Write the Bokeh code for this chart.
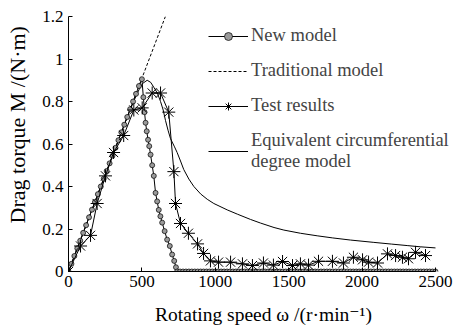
import numpy as np
from bokeh.plotting import figure
from bokeh.models import (Range1d, FixedTicker, CustomJSTickFormatter, Legend,
                          LegendItem)
from bokeh.embed import file_html
from bokeh.resources import INLINE

# ---------------- data ----------------
x_ticks = [0, 500, 1000, 1500, 2000, 2500]
y_ticks = [0, 0.2, 0.4, 0.6, 0.8, 1.0, 1.2]

# Traditional model (dashed straight line)
trad_w = [0, 660]
trad_m = [0.0, 1.2]

# New model (circles)
new_rise_w = [0, 20, 40, 60, 80, 100, 120, 140, 160, 180, 200, 220, 240, 260,
              280, 300, 320, 340, 360, 380, 400, 420, 440, 460, 480, 500]
new_rise_m = [0.000, 0.036, 0.073, 0.109, 0.145, 0.182, 0.218, 0.255, 0.291,
              0.327, 0.364, 0.400, 0.436, 0.473, 0.509, 0.545, 0.582, 0.618,
              0.655, 0.691, 0.727, 0.764, 0.800, 0.836, 0.873, 0.905]
new_fall_w = [510, 518, 525, 533, 542, 550, 559, 570, 581, 593, 604, 615, 626,
              638, 655, 672, 690, 706, 720, 732, 740]
new_fall_m = [0.82, 0.75, 0.70, 0.66, 0.62, 0.59, 0.55, 0.50, 0.45, 0.37, 0.33,
              0.29, 0.26, 0.23, 0.19, 0.15, 0.12, 0.08, 0.05, 0.02, 0.0]
new_tail_w = list(range(760, 2501, 20))
new_tail_m = [0.0] * len(new_tail_w)
new_w = new_rise_w + new_fall_w + new_tail_w
new_m = new_rise_m + new_fall_m + new_tail_m

# Test results (asterisks)
test_w = [0, 82, 150, 195, 252, 307, 376, 445, 502, 570, 627, 683, 718, 729,
          763, 817, 879, 920, 967, 1022, 1104, 1185, 1253, 1328, 1396, 1458,
          1526, 1580, 1635, 1703, 1798, 1873, 1941, 2003, 2044, 2105, 2173,
          2228, 2275, 2316, 2364, 2432]
test_m = [0.0, 0.12, 0.17, 0.32, 0.45, 0.56, 0.64, 0.76, 0.77, 0.84, 0.84, 0.75,
          0.47, 0.32, 0.226, 0.18, 0.13, 0.085, 0.05, 0.044, 0.044, 0.036,
          0.028, 0.04, 0.03, 0.047, 0.028, 0.036, 0.03, 0.048, 0.048, 0.04,
          0.067, 0.055, 0.044, 0.04, 0.083, 0.075, 0.067, 0.06, 0.09, 0.075]

# Equivalent circumferential degree model (thin solid line)
eq_w = [0, 100, 200, 300, 400, 450, 480, 505, 536, 560, 581, 605, 627, 645,
        661, 678, 695, 720, 740, 763, 785, 820, 854, 900, 945, 990, 1081,
        1150, 1240, 1308, 1400, 1467, 1580, 1694, 1800, 1921, 2080, 2200,
        2307, 2400, 2500]
eq_m = [0.0, 0.182, 0.364, 0.545, 0.727, 0.81, 0.855, 0.885, 0.9, 0.89, 0.867,
        0.84, 0.8, 0.76, 0.71, 0.665, 0.625, 0.59, 0.56, 0.52, 0.48, 0.435,
        0.4, 0.365, 0.34, 0.32, 0.29, 0.27, 0.245, 0.228, 0.207, 0.195, 0.18,
        0.168, 0.158, 0.148, 0.137, 0.129, 0.122, 0.116, 0.111]

legend_labels = ["New model", "Traditional model", "Test results",
                 "Equivalent circumferential\ndegree model"]
x_title = "Rotating speed \u03c9 /(r\u00b7min\u207b\u00b9)"
y_title = "\u00a0" * 7 + "Drag torque M /(N\u00b7m)"

FONT = "Liberation Serif, Times New Roman, DejaVu Serif, serif"

# ---------------- figure ----------------
# The frame runs to the right edge (so the legend is not clipped); the axis
# itself is bounded to 0..2500 as in the reference.
p = figure(width=458, height=331, output_backend="svg", toolbar_location=None,
           x_range=Range1d(0, 2656.7), y_range=Range1d(0, 1.2),
           min_border_left=68, min_border_right=0, min_border_top=16,
           min_border_bottom=60)
p.outline_line_color = None
p.xgrid.visible = False
p.ygrid.visible = False
p.background_fill_color = "white"
p.border_fill_color = "white"

for ax, ticks in ((p.xaxis[0], x_ticks), (p.yaxis[0], y_ticks)):
    ax.ticker = FixedTicker(ticks=ticks)
    ax.formatter = CustomJSTickFormatter(code="return tick.toString();")
    ax.major_tick_in = 4
    ax.major_tick_out = 0
    ax.minor_tick_line_color = None
    ax.axis_line_color = "black"
    ax.axis_line_width = 1
    ax.major_tick_line_color = "black"
    ax.major_label_text_font = FONT
    ax.major_label_text_font_size = "17px"
    ax.major_label_text_font_style = "normal"
    ax.major_label_text_color = "black"
    ax.axis_label_text_font = FONT
    ax.axis_label_text_font_style = "normal"
    ax.axis_label_text_color = "black"
p.xaxis.bounds = (x_ticks[0], x_ticks[-1])
p.xaxis.major_label_standoff = 4
p.yaxis.major_label_standoff = 5
p.xaxis.axis_label = x_title
p.xaxis.axis_label_text_font_size = "19.5px"
p.xaxis.axis_label_standoff = 14
p.yaxis.axis_label = y_title
p.yaxis.axis_label_text_font_size = "22px"
p.yaxis.axis_label_standoff = 9

trad = p.line(trad_w, trad_m, line_color="black", line_width=1,
              line_dash="3 2")
eq = p.line(eq_w, eq_m, line_color="black", line_width=1)
new_l = p.line(new_w, new_m, line_color="black", line_width=1)
new_s = p.scatter(new_w, new_m, marker="circle", size=5, fill_color="#9a9a9a",
                  line_color="black", line_width=0.7)
test_l = p.line(test_w, test_m, line_color="black", line_width=1)
test_s = p.scatter(test_w, test_m, marker="asterisk", size=13,
                   line_color="black", line_width=1)

legend = Legend(items=[
    LegendItem(label=legend_labels[0], renderers=[new_l, new_s]),
    LegendItem(label=legend_labels[1], renderers=[trad]),
    LegendItem(label=legend_labels[2], renderers=[test_l, test_s]),
    LegendItem(label=legend_labels[3], renderers=[eq]),
], location=(140, 99), glyph_width=40, glyph_height=20, label_height=20,
    label_text_font_size="18.5px", label_standoff=3,
    padding=0, spacing=14, margin=0, border_line_color=None,
    background_fill_color="white", background_fill_alpha=1.0)
legend.label_text_font = FONT
legend.label_text_font_style = "normal"
p.add_layout(legend)

open("out.html", "w").write(file_html(p, INLINE))
